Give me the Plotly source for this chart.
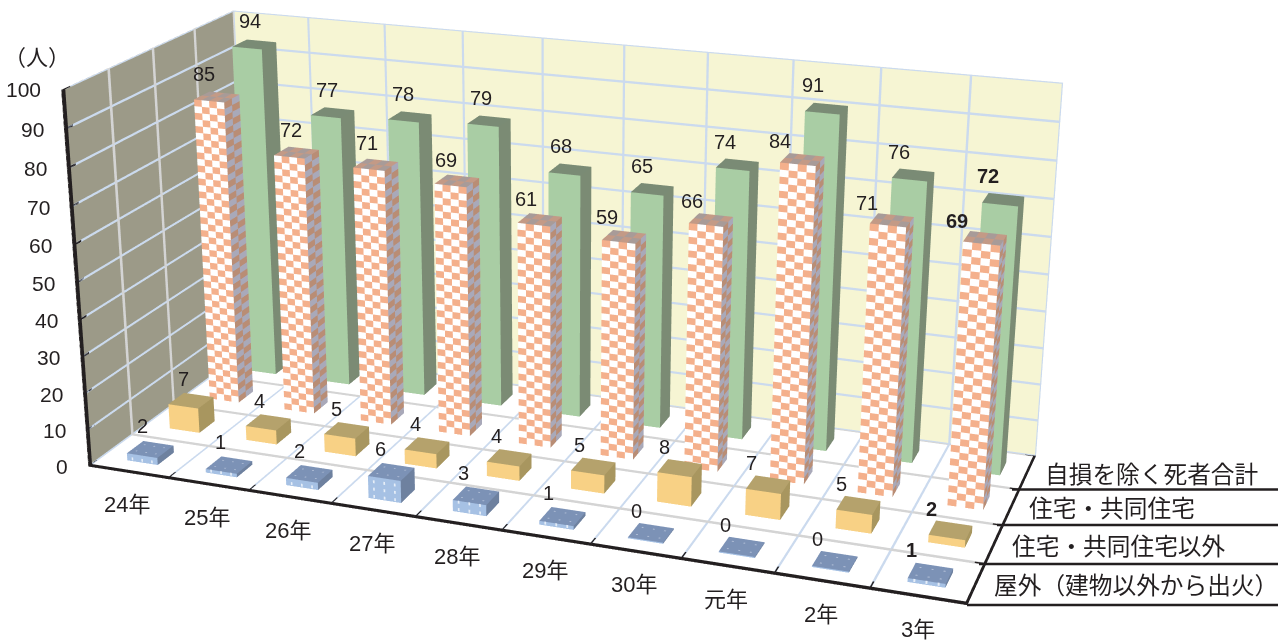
import numpy as np
import plotly.graph_objects as go

categories = ["24年","25年","26年","27年","28年","29年","30年","元年","2年","3年"]
series_names = ["屋外（建物以外から出火）","住宅・共同住宅以外","住宅・共同住宅","自損を除く死者合計"]
outdoor = [2,1,2,6,3,1,0,0,0,1]
non_residential = [7,4,5,4,4,5,8,7,5,2]
residential = [85,72,71,69,61,59,66,84,71,69]
total = [94,77,78,79,68,65,74,91,76,72]
z_ticks = list(range(0,101,10))
x_ticks = list(range(0,11))
y_ticks = list(range(0,5))

# The scene is larger than the window: plotly's fixed field of view needs this to reach the narrow lens of the reference.
W,H=1444,2023
LEFT,TOP=-162,-701
def px(x): return (x-LEFT)/W
def py(y): return 1-(y-TOP)/H

BARX,BARY=0.39,0.38
LIGHT=dict(ambient=1,diffuse=0,specular=0,fresnel=0,roughness=1)
def quad(V,I,J,K,C,a,b,c,d,col):
    n=len(V); V+= [tuple(a),tuple(b),tuple(c),tuple(d)]; I+=[n,n]; J+=[n+1,n+2]; K+=[n+2,n+3]; C+=[col,col]

def face(V,I,J,K,C,o,e1,e2,n1,n2,cols):
    o=np.array(o,float);e1=np.array(e1,float);e2=np.array(e2,float)
    for a in range(n1):
        for b in range(n2):
            col=cols[(a+b)%len(cols)]
            q=o+e1*a/n1+e2*b/n2
            quad(V,I,J,K,C,q,q+e1/n1,q+e1/n1+e2/n2,q+e2/n2,col)

def bars(values,j,pal,pattern=None):
    V=[];I=[];J=[];K=[];C=[]
    for i,v in enumerate(values):
        h=max(v,0.3)
        x0=i+.52-BARX/2; y0=j+.5-BARY/2
        nz=max(1,int(round(h/1.8))) if pattern=="check" else 1
        n1=4 if pattern=="check" else 1
        n2=2 if pattern=="check" else 1
        face(V,I,J,K,C,(x0,y0,0),(BARX,0,0),(0,0,h),n1,nz,pal[0])
        face(V,I,J,K,C,(x0+BARX,y0,0),(0,BARY,0),(0,0,h),n2,nz,pal[1])
        face(V,I,J,K,C,(x0,y0,h),(BARX,0,0),(0,BARY,0),n1,n2,pal[2])
        if pattern=="dots":
            e=0.004
            for fx in (.18,.5,.82):
                for fy in (.25,.75):
                    cx=x0+BARX*fx; cy=y0+BARY*fy
                    quad(V,I,J,K,C,(cx-.01,cy-.01,h+.02),(cx+.01,cy-.01,h+.02),(cx+.01,cy+.01,h+.02),(cx-.01,cy+.01,h+.02),"#b9c6dc")
            zz=0.3
            while zz<h-0.3:
                for fx in (.18,.5,.82):
                    cx=x0+BARX*fx
                    quad(V,I,J,K,C,(cx-.01,y0-e,zz),(cx+.01,y0-e,zz),(cx+.01,y0-e,zz+.8),(cx-.01,y0-e,zz+.8),"#e6eef8")
                zz+=2.0
    V=np.array(V)
    return go.Mesh3d(x=V[:,0],y=V[:,1],z=V[:,2],i=I,j=J,k=K,facecolor=C,flatshading=True,lighting=LIGHT,hoverinfo="skip",showscale=False)

XN,YN,ZN=x_ticks[-1],y_ticks[-1],z_ticks[-1]
BOUND_LO=np.array([0,0,0],float); BOUND_HI=np.array([XN,YN,ZN],float)
def sticks(segs,color):
    """Thick lines as thin boxes, since WebGL line width is capped at one pixel; the scene clips at its axis ranges."""
    V=[];I=[];J=[];K=[];C=[]
    for (a,b,h) in segs:
        lo=np.maximum(np.minimum(a,b)-np.array(h),BOUND_LO); hi=np.minimum(np.maximum(a,b)+np.array(h),BOUND_HI)
        x0,y0,z0=lo; x1,y1,z1=hi
        face(V,I,J,K,C,(x0,y0,z0),(x1-x0,0,0),(0,0,z1-z0),1,1,[color])
        face(V,I,J,K,C,(x0,y1,z0),(x1-x0,0,0),(0,0,z1-z0),1,1,[color])
        face(V,I,J,K,C,(x0,y0,z0),(0,y1-y0,0),(0,0,z1-z0),1,1,[color])
        face(V,I,J,K,C,(x1,y0,z0),(0,y1-y0,0),(0,0,z1-z0),1,1,[color])
        face(V,I,J,K,C,(x0,y0,z1),(x1-x0,0,0),(0,y1-y0,0),1,1,[color])
    V=np.array(V)
    return go.Mesh3d(x=V[:,0],y=V[:,1],z=V[:,2],i=I,j=J,k=K,facecolor=C,flatshading=True,lighting=LIGHT,hoverinfo="skip",showscale=False)

BLUE="#cbdaee"; GRAY="#d4d4d4"
blue=[];gray=[];black=[]
for t in z_ticks:
    blue.append(((0,YN,t),(XN,YN,t),(.002,.004,.3)))
    blue.append(((0,0,t),(0,YN,t),(.004,.002,.3)))
for i in x_ticks:
    blue.append(((i,YN,0),(i,YN,ZN),(.013,.004,.0)))
    blue.append(((i,0,0),(i,YN,0),(.013,.0,.02)))
for j in y_ticks:
    gray.append(((0,j,0),(0,j,ZN),(.004,.025,.0)))
    gray.append(((0,j,0),(XN,j,0),(.0,.03,.02)))
black.append(((0,0,0),(0,0,ZN),(.02,.05,.0)))
black.append(((0,0,0),(XN,0,0),(.0,.07,.1)))
black.append(((XN,0,0),(XN,YN,0),(.03,.0,.1)))
for t in z_ticks: black.append(((0,0,t),(0,.18,t),(.004,.0,.25)))
for i in x_ticks[1:]: black.append(((i,0,0),(i,.2,0),(.008,.0,.03)))
for j in y_ticks[1:]: black.append(((XN,j,0),(XN-.12,j,0),(.0,.016,.03)))

fig=go.Figure()
fig.add_trace(sticks(blue,BLUE))
fig.add_trace(sticks(gray,GRAY))
fig.add_trace(sticks(black,"#231f20"))
fig.add_trace(bars(outdoor,0,(["#a6c1e4"],["#6e819f"],["#7c92b6"]),"dots"))
fig.add_trace(bars(non_residential,1,(["#f8d185"],["#a8965f"],["#b5a26c"])))
fig.add_trace(bars(residential,2,(["#f4b08c","#ffffff"],["#b98d75","#a9a9b9"],["#c39a86","#a89b98"]),"check"))
fig.add_trace(bars(total,3,(["#a9cda4"],["#7b8b74"],["#7a8b75"])))

INK="#231f20"
NUM="Liberation Sans, Noto Sans CJK JP"
ann=[]
for t in z_ticks:
    ann.append(dict(x=0,y=0,z=t,text=str(t),showarrow=False,xanchor="right",xshift=-18,font=dict(family=NUM,size=21,color=INK)))
for i,c in enumerate(categories):
    ann.append(dict(x=i+.5,y=0,z=0,text=c,showarrow=False,yshift=-32,xshift=0,font=dict(family=NUM,size=22,color=INK)))
def label_shift(j,i):
    if j==2: return (-11 if i==0 else -(1.5+2.7*i)),23-0.7*i
    if j==3: return -(3+1.2*i),23
    if j==1: return -(6+1.2*i),21
    return -(6+1.2*i),23
for j,vals in enumerate([outdoor,non_residential,residential,total]):
    for i,v in enumerate(vals):
        t=str(v)
        if i==9: t="<b>%s</b>"%t
        xs,ys=label_shift(j,i)
        ann.append(dict(x=i+.5,y=j+.5,z=v,text=t,showarrow=False,yshift=ys,xshift=xs,font=dict(family=NUM,size=20,color=INK)))
for j,n in enumerate(series_names):
    ann.append(dict(x=XN,y=j+.5,z=0,text=n,showarrow=False,xanchor="left",xshift=14.5,font=dict(family="Noto Sans CJK JP",size=23.7,color=INK)))

def ax_(bg,vals,rng):
    return dict(range=rng,tickvals=vals,showticklabels=False,title="",showbackground=True,backgroundcolor=bg,showgrid=False,
                zeroline=False,showline=False,showspikes=False,ticks="",autorange=False)
fig.update_layout(
    width=W,height=H,margin=dict(l=0,r=0,t=0,b=0),paper_bgcolor="white",showlegend=False,
    scene=dict(domain=dict(x=[0,1],y=[0,1]),
        xaxis=ax_("#9c9a88",x_ticks,[0,XN]),
        yaxis=ax_("#f6f5d3",y_ticks,[0,YN]),
        zaxis=ax_("#ffffff",z_ticks,[0,ZN]),
        aspectmode="manual",aspectratio=dict(x=1,y=0.3985,z=0.4385),
        camera=dict(eye=dict(x=0.8709,y=-2.3931,z=0.8898),center=dict(x=-0.0266,y=0.0574,z=-0.06),
                    up=dict(x=0,y=0,z=1),projection=dict(type="perspective")),
        annotations=ann),
    annotations=[dict(xref="paper",yref="paper",x=px(37),y=py(55),xanchor="center",yanchor="middle",text="（人）",showarrow=False,font=dict(family="Noto Sans CJK JP",size=22,color=INK))],
    shapes=[dict(type="line",xref="paper",yref="paper",x0=px(x0),x1=px(1278),y0=py(y),y1=py(y),line=dict(color=INK,width=2.5))
            for x0,y in [(1012,489.5),(997,525),(979,564),(967,605)]],
)
post=("document.documentElement.style.overflow='hidden';document.body.style.overflow='hidden';document.body.style.margin='0';"
      "var d=document.querySelector('.plotly-graph-div');d.style.position='absolute';d.style.left='%dpx';d.style.top='%dpx';"%(LEFT,TOP))
fig.write_html("out.html",post_script=post)
